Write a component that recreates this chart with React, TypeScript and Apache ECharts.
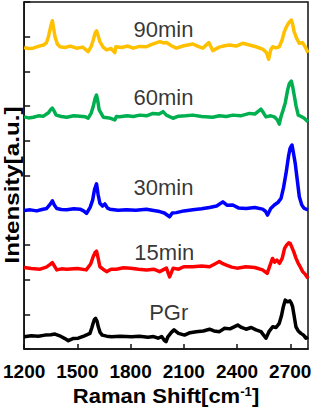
import React, { useEffect, useRef } from "react";
import * as echarts from "echarts";

const FONT = "'Liberation Sans', Arial, sans-serif";

const xTicks = { min: 1200, max: 2800, interval: 300 };

const series90: [number, number][] = [
  [1200, 8.69], [1225, 8.66], [1250, 8.67], [1280, 8.72], [1309, 8.76], [1325, 8.82], [1337, 9.0], [1350, 9.3], [1359, 9.46], [1366, 9.25], [1374, 9.0], [1388, 8.78], [1402, 8.71], [1430, 8.69], [1460, 8.73], [1496, 8.67], [1530, 8.7], [1561, 8.57], [1578, 8.72], [1589, 8.9], [1600, 9.1], [1608, 9.17], [1616, 9.05], [1627, 8.86], [1645, 8.7], [1665, 8.62], [1690, 8.66], [1711, 8.54], [1717, 8.71], [1750, 8.69], [1785, 8.73], [1814, 8.67], [1850, 8.72], [1889, 8.71], [1920, 8.78], [1964, 8.86], [1985, 8.82], [2002, 8.83], [2030, 8.74], [2058, 8.67], [2100, 8.74], [2151, 8.79], [2180, 8.72], [2207, 8.67], [2241, 8.83], [2263, 8.6], [2300, 8.7], [2330, 8.74], [2357, 8.76], [2395, 8.73], [2432, 8.81], [2470, 8.76], [2507, 8.71], [2544, 8.64], [2565, 8.55], [2578, 8.35], [2590, 8.62], [2601, 8.71], [2620, 8.68], [2638, 8.71], [2655, 8.92], [2666, 9.14], [2680, 9.3], [2690, 9.39], [2706, 9.48], [2714, 9.35], [2722, 9.14], [2736, 8.95], [2751, 8.81], [2769, 8.83], [2785, 8.7], [2800, 8.54],
];

const series60: [number, number][] = [
  [1200, 6.69], [1225, 6.66], [1252, 6.68], [1280, 6.72], [1309, 6.71], [1337, 6.81], [1350, 6.9], [1359, 6.94], [1370, 6.85], [1380, 6.74], [1410, 6.7], [1440, 6.68], [1480, 6.72], [1515, 6.71], [1545, 6.69], [1561, 6.65], [1578, 6.8], [1589, 6.98], [1600, 7.22], [1608, 7.32], [1615, 7.15], [1623, 6.89], [1646, 6.68], [1680, 6.66], [1711, 6.6], [1720, 6.7], [1739, 6.69], [1780, 6.72], [1815, 6.7], [1852, 6.74], [1890, 6.72], [1926, 6.79], [1960, 6.77], [1983, 6.84], [2002, 6.74], [2039, 6.65], [2070, 6.71], [2110, 6.72], [2151, 6.74], [2200, 6.7], [2263, 6.68], [2300, 6.72], [2340, 6.7], [2376, 6.74], [2420, 6.72], [2470, 6.79], [2500, 6.77], [2535, 6.91], [2550, 6.8], [2563, 6.69], [2590, 6.72], [2610, 6.69], [2628, 6.6], [2638, 6.48], [2648, 6.7], [2657, 6.84], [2672, 7.1], [2685, 7.46], [2695, 7.65], [2706, 7.72], [2714, 7.55], [2722, 7.32], [2733, 7.0], [2745, 6.74], [2762, 6.7], [2779, 6.65], [2800, 6.55],
];

const series30: [number, number][] = [
  [1200, 3.99], [1235, 4.01], [1271, 3.98], [1300, 4.02], [1327, 4.05], [1345, 4.16], [1359, 4.27], [1370, 4.15], [1384, 4.05], [1410, 4.02], [1440, 4.01], [1480, 4.04], [1515, 4.03], [1535, 3.98], [1552, 3.91], [1572, 4.08], [1586, 4.29], [1597, 4.6], [1608, 4.76], [1617, 4.45], [1627, 4.2], [1642, 4.12], [1655, 4.18], [1670, 4.06], [1683, 4.03], [1730, 4.0], [1777, 4.01], [1830, 4.0], [1889, 4.03], [1930, 3.99], [1964, 3.96], [1990, 3.92], [2020, 3.81], [2035, 3.92], [2058, 3.93], [2100, 3.98], [2151, 4.01], [2200, 4.04], [2245, 4.08], [2285, 4.12], [2320, 4.24], [2345, 4.14], [2376, 4.15], [2410, 4.06], [2451, 4.05], [2500, 4.08], [2544, 4.03], [2560, 3.97], [2572, 3.86], [2590, 4.05], [2610, 4.15], [2630, 4.22], [2648, 4.34], [2662, 4.65], [2676, 5.06], [2690, 5.55], [2699, 5.78], [2710, 5.88], [2718, 5.65], [2728, 5.35], [2740, 4.85], [2751, 4.39], [2765, 4.15], [2779, 4.05], [2800, 4.01],
];

const series15: [number, number][] = [
  [1200, 2.35], [1240, 2.32], [1290, 2.3], [1325, 2.36], [1345, 2.43], [1359, 2.49], [1372, 2.38], [1384, 2.28], [1410, 2.31], [1440, 2.3], [1500, 2.32], [1550, 2.28], [1575, 2.45], [1589, 2.66], [1600, 2.78], [1608, 2.82], [1617, 2.62], [1627, 2.37], [1645, 2.3], [1665, 2.23], [1690, 2.3], [1720, 2.3], [1760, 2.34], [1800, 2.33], [1845, 2.3], [1890, 2.28], [1930, 2.3], [1964, 2.23], [2002, 2.33], [2020, 2.08], [2040, 2.33], [2070, 2.3], [2100, 2.37], [2151, 2.37], [2200, 2.39], [2245, 2.37], [2275, 2.45], [2300, 2.52], [2320, 2.46], [2340, 2.42], [2370, 2.36], [2400, 2.33], [2450, 2.37], [2500, 2.35], [2544, 2.28], [2570, 2.18], [2585, 2.4], [2600, 2.61], [2612, 2.5], [2625, 2.56], [2640, 2.47], [2655, 2.62], [2668, 2.9], [2680, 3.0], [2692, 3.06], [2700, 3.04], [2710, 2.92], [2720, 2.8], [2732, 2.62], [2745, 2.47], [2758, 2.35], [2770, 2.23], [2785, 2.15], [2800, 2.04],
];

const seriesPGr: [number, number][] = [
  [1200, 0.35], [1240, 0.38], [1280, 0.37], [1318, 0.4], [1350, 0.41], [1374, 0.43], [1400, 0.38], [1430, 0.3], [1449, 0.24], [1475, 0.3], [1505, 0.31], [1540, 0.38], [1571, 0.45], [1582, 0.62], [1589, 0.74], [1596, 0.85], [1603, 0.88], [1611, 0.8], [1618, 0.64], [1628, 0.48], [1640, 0.4], [1665, 0.37], [1693, 0.35], [1740, 0.37], [1805, 0.35], [1850, 0.37], [1898, 0.34], [1930, 0.36], [1955, 0.31], [1975, 0.36], [1990, 0.25], [2000, 0.21], [2010, 0.35], [2030, 0.48], [2045, 0.55], [2070, 0.45], [2104, 0.4], [2135, 0.47], [2170, 0.5], [2210, 0.52], [2245, 0.57], [2270, 0.52], [2301, 0.5], [2330, 0.6], [2360, 0.58], [2404, 0.69], [2425, 0.62], [2451, 0.57], [2480, 0.62], [2507, 0.55], [2535, 0.5], [2563, 0.31], [2580, 0.5], [2601, 0.64], [2620, 0.62], [2638, 0.74], [2650, 0.95], [2661, 1.22], [2672, 1.41], [2685, 1.36], [2698, 1.39], [2706, 1.32], [2713, 1.22], [2722, 0.95], [2732, 0.64], [2745, 0.52], [2760, 0.45], [2775, 0.4], [2788, 0.31], [2800, 0.35],
];

const seriesNames = ["90min", "60min", "30min", "15min", "PGr"];
const seriesColors = ["#FFC000", "#00B050", "#0000FF", "#FF0000", "#000000"];
const seriesData = [series90, series60, series30, series15, seriesPGr];
const labelPositions: [number, number][] = [
  [1985, 9.22],
  [1985, 7.26],
  [1985, 4.64],
  [1990, 2.78],
  [2015, 1.04],
];

export default function App() {
  const ref = useRef<HTMLDivElement>(null);
  useEffect(() => {
    if (!ref.current) return;
    const chart = echarts.init(ref.current, null, { renderer: "svg" });
    const lineSeries = seriesData.map((d, i) => ({
      type: "line",
      name: seriesNames[i],
      data: d,
      showSymbol: false,
      symbol: "none",
      lineStyle: { color: seriesColors[i], width: 3.5, join: "round" },
      itemStyle: { color: seriesColors[i] },
      z: 2,
    }));
    const labelSeries = {
      type: "scatter",
      symbolSize: 1,
      itemStyle: { color: "rgba(0,0,0,0)" },
      data: labelPositions.map((p, i) => ({ value: p, name: seriesNames[i] })),
      label: {
        show: true,
        position: "inside",
        formatter: "{b}",
        color: "#000",
        fontSize: 22,
        fontFamily: FONT,
      },
      z: 5,
    };
    chart.setOption({
      animation: false,
      backgroundColor: "#fff",
      grid: {
        left: 24,
        right: 7,
        top: 2,
        bottom: 61,
        show: true,
        borderColor: "#111",
        borderWidth: 1.5,
        backgroundColor: "transparent",
      },
      xAxis: {
        type: "value",
        min: xTicks.min,
        max: xTicks.max,
        interval: xTicks.interval,
        axisLine: { show: true, lineStyle: { color: "#111", width: 1.5 } },
        axisTick: { show: true, inside: true, length: 5, lineStyle: { color: "#111", width: 1.5 } },
        axisLabel: {
          show: true,
          showMaxLabel: false,
          margin: 13,
          color: "#000",
          fontSize: 19,
          fontWeight: "bold",
          fontFamily: FONT,
          formatter: (v: number) => String(v),
        },
        splitLine: { show: false },
      },
      yAxis: {
        type: "value",
        min: 0,
        max: 10,
        interval: 1,
        axisLine: { show: true, lineStyle: { color: "#111", width: 1.5 } },
        axisTick: { show: true, inside: true, length: 6, lineStyle: { color: "#111", width: 1.5 } },
        axisLabel: { show: false },
        splitLine: { show: false },
      },
      graphic: [
        {
          type: "text",
          x: 12,
          y: 185,
          rotation: Math.PI / 2,
          scaleX: 1.15,
          style: {
            text: "Intensity[a.u.]",
            fill: "#000",
            fontSize: 21,
            fontWeight: "bold",
            fontFamily: FONT,
            align: "center",
            verticalAlign: "middle",
            textAlign: "center",
            textVerticalAlign: "middle",
          },
        },
        {
          type: "text",
          x: 166,
          y: 396,
          scaleX: 1.1,
          style: {
            text: "{a|Raman Shift[cm}{b|-1}{a|]}",
            fill: "#000",
            fontSize: 20,
            fontWeight: "bold",
            fontFamily: FONT,
            align: "center",
            verticalAlign: "middle",
            textAlign: "center",
            textVerticalAlign: "middle",
            rich: {
              a: { fontSize: 20, fontWeight: "bold", fontFamily: FONT, fill: "#000", color: "#000" },
              b: { fontSize: 12, fontWeight: "bold", fontFamily: FONT, fill: "#000", color: "#000", verticalAlign: "top" },
            },
          },
        },
      ],
      series: [...lineSeries, labelSeries],
    });
    return () => chart.dispose();
  }, []);
  return (
    <div
      ref={ref}
      style={{ position: "fixed", left: 0, top: 0, width: 315, height: 410 }}
    />
  );
}
